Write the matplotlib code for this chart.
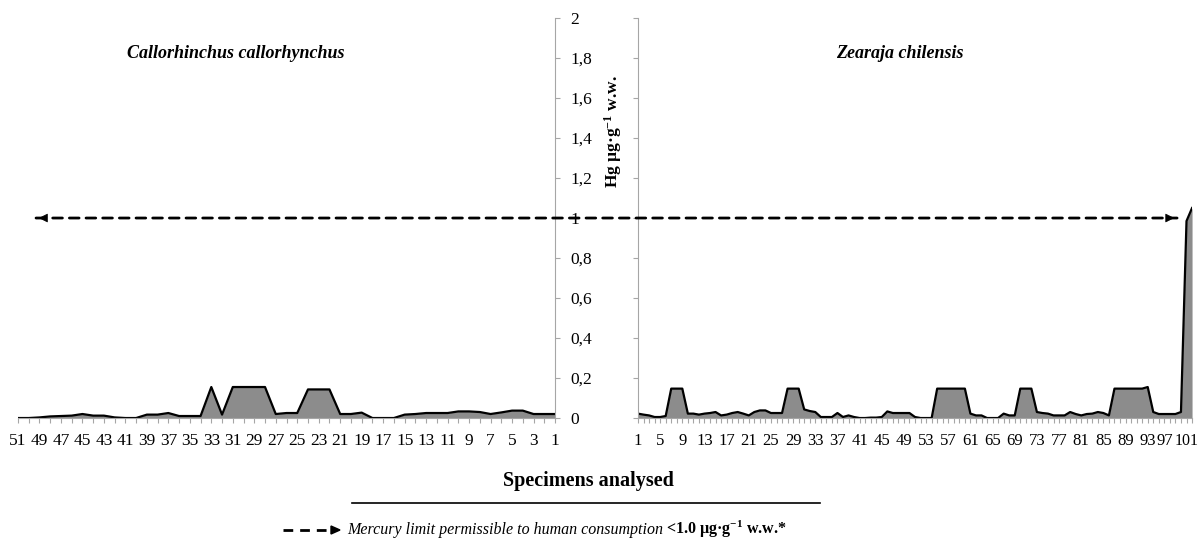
import matplotlib
matplotlib.use('Agg')
import matplotlib.pyplot as plt
import numpy as np
from matplotlib.patches import ConnectionPatch
from matplotlib.lines import Line2D

plt.rcParams['font.family'] = 'Liberation Serif'
plt.rcParams['mathtext.fontset'] = 'custom'
plt.rcParams['mathtext.rm'] = 'Liberation Serif'
plt.rcParams['mathtext.it'] = 'Liberation Serif:italic'
plt.rcParams['mathtext.bf'] = 'Liberation Serif:bold'

# Hg (ug/g w.w.) per specimen
callo_ids = np.arange(1, 52)
callo_hg = [0.02, 0.02, 0.02, 0.037, 0.037, 0.028, 0.02, 0.03, 0.033, 0.033,
            0.025, 0.025, 0.025, 0.02, 0.017, 0.0, 0.0, 0.0, 0.027, 0.02,
            0.02, 0.143, 0.143, 0.143, 0.025, 0.025, 0.02, 0.155, 0.155, 0.155,
            0.155, 0.017, 0.155, 0.01, 0.01, 0.01, 0.025, 0.017, 0.017, 0.0,
            0.0, 0.003, 0.012, 0.012, 0.02, 0.012, 0.01, 0.008, 0.003, 0.0,
            0.0]

zea_ids = np.arange(1, 102)
zea_hg = [0.022, 0.017, 0.013, 0.005, 0.005, 0.01, 0.147, 0.147, 0.147, 0.022,
          0.022, 0.017, 0.022, 0.025, 0.03, 0.013, 0.017, 0.025, 0.03, 0.022,
          0.013, 0.03, 0.038, 0.038, 0.025, 0.025, 0.025, 0.147, 0.147, 0.147,
          0.043, 0.035, 0.03, 0.005, 0.005, 0.005, 0.025, 0.005, 0.013, 0.005,
          0.0, 0.0, 0.002, 0.002, 0.005, 0.033, 0.025, 0.025, 0.025, 0.025,
          0.005, 0.0, 0.0, 0.0, 0.147, 0.147, 0.147, 0.147, 0.147, 0.147,
          0.022, 0.013, 0.013, 0.0, 0.0, 0.0, 0.022, 0.013, 0.013, 0.147,
          0.147, 0.147, 0.03, 0.025, 0.022, 0.013, 0.013, 0.013, 0.03, 0.02,
          0.013, 0.02, 0.022, 0.03, 0.025, 0.013, 0.147, 0.147, 0.147, 0.147,
          0.147, 0.147, 0.155, 0.03, 0.02, 0.02, 0.02, 0.02, 0.03, 0.985,
          1.05]

y_ticks = np.arange(0, 2.01, 0.2)
y_labels = [f'{v:.1f}'.rstrip('0').rstrip('.').replace('.', ',') for v in y_ticks]
limit = 1.0

grey = '#a6a6a6'
fill = '#8c8c8c'

fig = plt.figure(figsize=(11.99, 5.38), dpi=100)
ax_l = fig.add_axes([0.0150, 0.2230, 0.4479, 0.7435])
ax_r = fig.add_axes([0.5321, 0.2230, 0.4621, 0.7435])

for ax, x, y in [(ax_l, callo_ids, callo_hg), (ax_r, zea_ids, zea_hg)]:
    ax.fill_between(x, y, 0, color=fill, lw=0)
    ax.plot(x, y, color='black', lw=1.6)
    ax.set_ylim(0, 2)
    ax.set_yticks(y_ticks)
    ax.spines['top'].set_visible(False)
    for s in ax.spines.values():
        s.set_color(grey)
    ax.tick_params(axis='x', direction='out', length=3.6, color=grey, labelsize=12.5, pad=7)
    ax.tick_params(axis='y', direction='out', length=3.3, color=grey)
    ax.set_facecolor('none')

# left panel, reversed
ax_l.set_xlim(51, 1)
ax_l.spines['left'].set_visible(False)
ax_l.set_xticks(callo_ids)
ax_l.set_xticklabels([str(i) if i % 2 == 1 else '' for i in callo_ids])
ax_l.yaxis.tick_right()
ax_l.set_yticklabels(y_labels)
ax_l.tick_params(axis='y', labelsize=12.5, pad=8)

ax_r.set_xlim(1, 101)
ax_r.spines['right'].set_visible(False)
ax_r.set_xticks(zea_ids)
ax_r.set_xticklabels([str(i) if (i - 1) % 4 == 0 and i < 97 else '' for i in zea_ids])
ax_r.tick_params(axis='x', labelsize=12)
# last two labels squeezed against the edge, as in the original
for lab, dx, fs in [(97, -4, 12), (101, 4.5, 11.5)]:
    ax_r.annotate(str(lab), xy=(lab, 0), xycoords=('data', 'axes fraction'),
                  xytext=(dx, -10.6), textcoords='offset points',
                  ha='center' if lab < 101 else 'right', va='top',
                  fontsize=fs, annotation_clip=False)
ax_r.tick_params(axis='y', labelleft=False)

# titles
fig.text(236 / 1199, 1 - 53 / 538, 'Callorhinchus callorhynchus', ha='center', va='center',
         fontsize=13, fontweight='bold', fontstyle='italic')
fig.text(900 / 1199, 1 - 53 / 538, 'Zearaja chilensis', ha='center', va='center',
         fontsize=13, fontweight='bold', fontstyle='italic')
fig.text(613 / 1199, 1 - 132 / 538, r'Hg µg·g$^{\mathbf{-1}}$ w.w.', rotation=90,
         ha='center', va='center', fontsize=12.5, fontweight='bold')

# limit line (1.0 ug/g)
con = ConnectionPatch(xyA=(49.32, limit), coordsA=ax_l.transData,
                      xyB=(98.3, limit), coordsB=ax_r.transData,
                      color='black', lw=2, linestyle=(0, (3.5, 2.5)))
fig.add_artist(con)
ax_l.annotate('', xy=(49.32, limit), xytext=(48.4, limit),
              arrowprops=dict(arrowstyle='-|>', color='black', lw=0.5, mutation_scale=14))
ax_r.annotate('', xy=(98.3, limit), xytext=(96.5, limit),
              arrowprops=dict(arrowstyle='-|>', color='black', lw=0.5, mutation_scale=14))

# x axis title
fig.text(588 / 1199, 1 - 481 / 538, 'Specimens analysed', ha='center', va='center',
         fontsize=14.5, fontweight='bold')
fig.add_artist(Line2D([352 / 1199, 820 / 1199], [1 - 503 / 538] * 2, color='black', lw=1.2))

# legend row
ly = 1 - 530 / 538
fig.add_artist(Line2D([283 / 1199, 334 / 1199], [ly, ly], color='black', lw=2,
                      linestyle=(0, (3.5, 2.5))))
fig.add_artist(plt.Polygon([[331 / 1199, ly + 4 / 538], [340 / 1199, ly], [331 / 1199, ly - 4 / 538]],
                           closed=True, color='black', transform=fig.transFigure))
base = ly - 4 / 538
t1 = fig.text(347 / 1199, base, 'Mercury limit permissible to human consumption',
              ha='left', va='baseline', fontsize=11.5, fontstyle='italic')
fig.canvas.draw()
bb = t1.get_window_extent()
fig.text((bb.x1 + 3) / 1199, base, r'<1.0 µg·g$^{\mathbf{-1}}$ w.w.*',
         ha='left', va='baseline', fontsize=11.5, fontweight='bold')

fig.savefig('out.png', dpi=100)
